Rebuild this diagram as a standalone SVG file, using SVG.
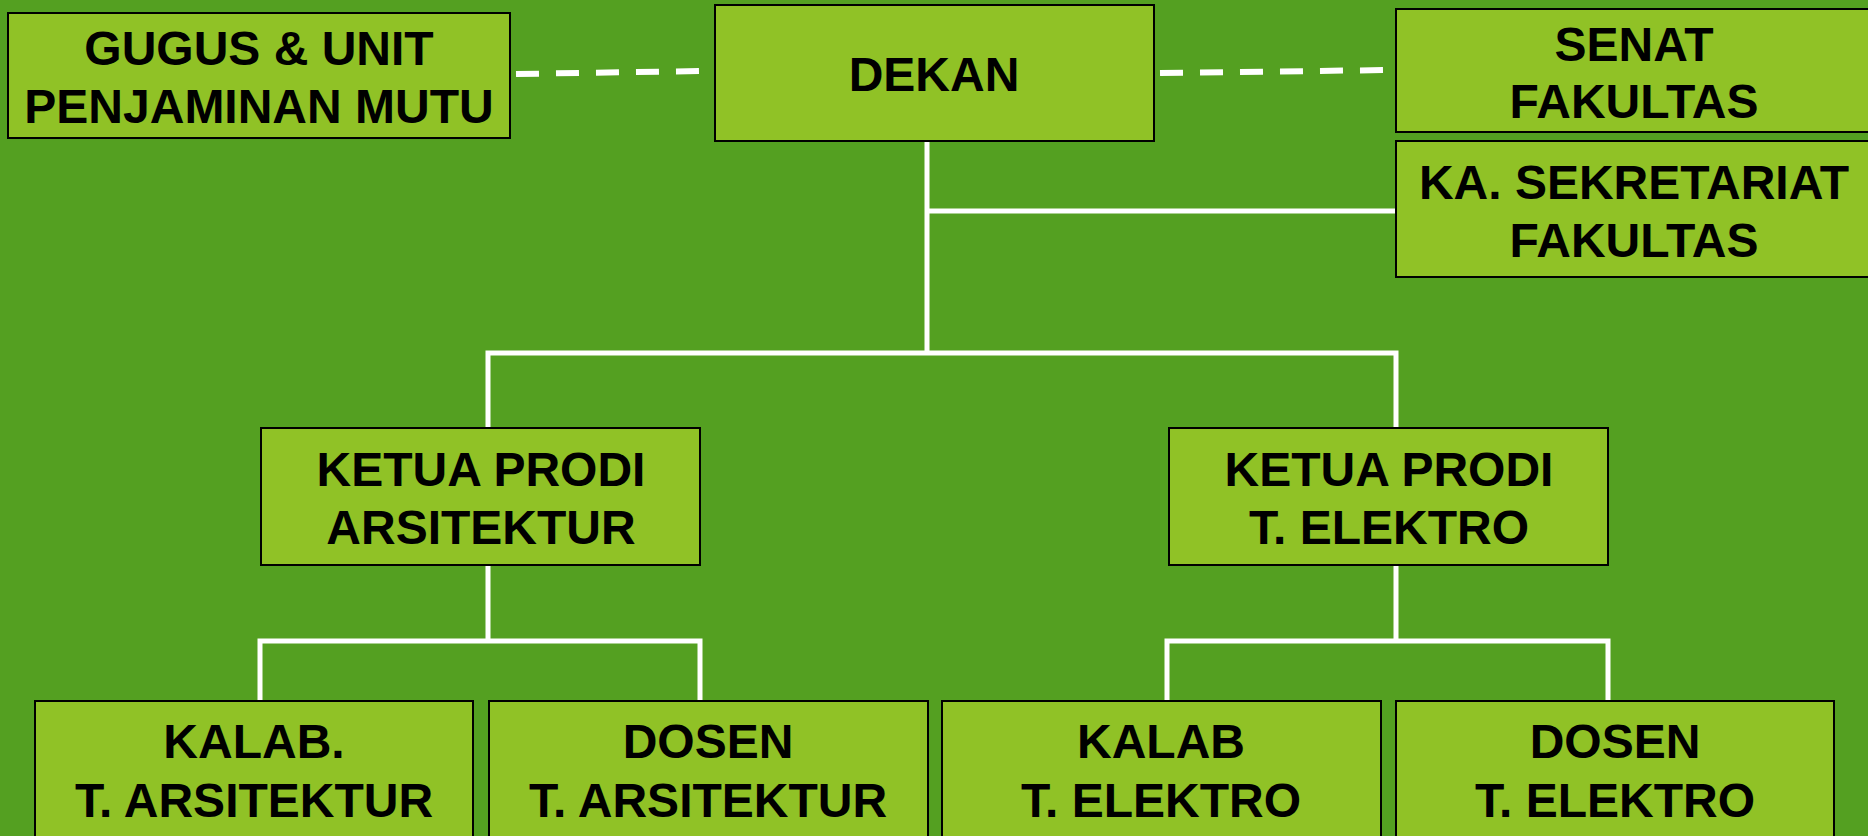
<svg xmlns="http://www.w3.org/2000/svg" width="1868" height="836" viewBox="0 0 1868 836">
<style>
.box{fill:#90C226;stroke:#000;stroke-width:2}
.t{font-family:"Liberation Sans",Arial,sans-serif;font-weight:bold;font-size:48px;fill:#000;text-anchor:middle}
.ln{stroke:#fff;stroke-width:5;fill:none}
.ds{stroke:#fff;stroke-width:6;fill:none;stroke-dasharray:23 17}
</style>
<rect x="0" y="0" width="1868" height="836" fill="#54A021"/>
<g id="connectors">
<line class="ds" x1="516" y1="74" x2="706" y2="71"/>
<line class="ds" x1="1160" y1="73" x2="1389" y2="70"/>
<path class="ln" d="M927 141 V353 M927 211 H1396 M488 428 V353 H1396 V428"/>
<path class="ln" d="M488 565 V641 M260 700 V641 H700 V700"/>
<path class="ln" d="M1396 565 V641 M1167 700 V641 H1608 V700"/>
</g>
<g id="gugus"><rect class="box" x="8" y="13" width="502" height="125"/><text class="t" x="259" y="65">GUGUS &amp; UNIT</text><text class="t" x="259" y="123">PENJAMINAN MUTU</text></g>
<g id="dekan"><rect class="box" x="715" y="5" width="439" height="136"/><text class="t" x="934" y="91">DEKAN</text></g>
<g id="senat"><rect class="box" x="1396" y="9" width="480" height="123"/><text class="t" x="1634" y="61">SENAT</text><text class="t" x="1634" y="118">FAKULTAS</text></g>
<g id="sekretariat"><rect class="box" x="1396" y="141" width="480" height="136"/><text class="t" x="1634" y="199">KA. SEKRETARIAT</text><text class="t" x="1634" y="257">FAKULTAS</text></g>
<g id="kaprodi-ars"><rect class="box" x="261" y="428" width="439" height="137"/><text class="t" x="481" y="486">KETUA PRODI</text><text class="t" x="481" y="544">ARSITEKTUR</text></g>
<g id="kaprodi-elk"><rect class="box" x="1169" y="428" width="439" height="137"/><text class="t" x="1389" y="486">KETUA PRODI</text><text class="t" x="1389" y="544">T. ELEKTRO</text></g>
<g id="kalab-ars"><rect class="box" x="35" y="701" width="438" height="150"/><text class="t" x="254" y="758">KALAB.</text><text class="t" x="254" y="817">T. ARSITEKTUR</text></g>
<g id="dosen-ars"><rect class="box" x="489" y="701" width="439" height="150"/><text class="t" x="708" y="758">DOSEN</text><text class="t" x="708" y="817">T. ARSITEKTUR</text></g>
<g id="kalab-elk"><rect class="box" x="942" y="701" width="439" height="150"/><text class="t" x="1161" y="758">KALAB</text><text class="t" x="1161" y="817">T. ELEKTRO</text></g>
<g id="dosen-elk"><rect class="box" x="1396" y="701" width="438" height="150"/><text class="t" x="1615" y="758">DOSEN</text><text class="t" x="1615" y="817">T. ELEKTRO</text></g>
</svg>
